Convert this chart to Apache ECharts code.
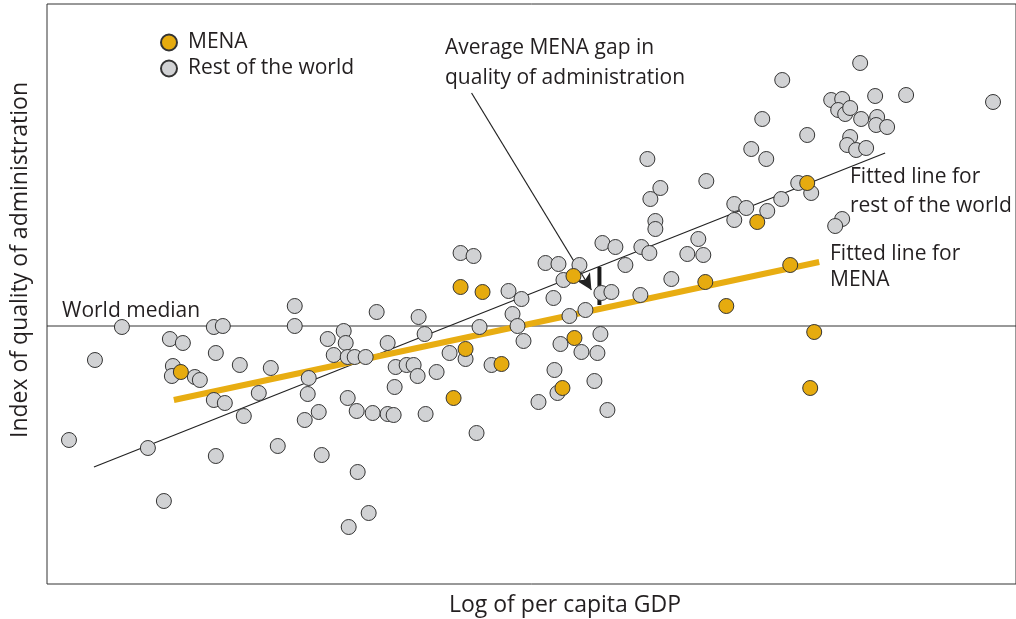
<!DOCTYPE html>
<html>
<head>
<meta charset="utf-8">
<script src="https://cdn.jsdelivr.net/npm/echarts@6/dist/echarts.min.js"></script>
<style>
  html, body { margin: 0; padding: 0; background: #fff; }
  #main { width: 1016px; height: 619px; }
</style>
</head>
<body>
<div id="main"></div>
<script>
// x: log of per capita GDP (arbitrary units), y: quality of administration (0 = world median)
var restOfWorld = [
  [7.5, -0.1], [4.8, -3.4], [12.3, -1.3], [13.6, -1.7], [12.6, -4.0], [12.5, -5.0],
  [14.8, -5.1], [15.3, -5.4], [16.7, -0.1], [17.6, 0.0], [16.9, -2.7], [19.3, -3.9],
  [22.4, -4.2], [16.7, -7.4], [17.8, -7.7], [19.7, -9.0], [21.2, -6.7], [2.2, -11.4],
  [10.1, -12.2], [16.9, -13.0], [23.1, -12.0], [24.8, 2.0], [24.8, 0.0], [11.7, -17.5],
  [28.1, -1.3], [29.7, -0.5], [29.9, -1.7], [28.7, -2.9], [30.1, -3.1], [30.8, -3.1],
  [31.9, -3.1], [33.0, 1.4], [34.1, -1.7], [37.2, 0.9], [37.8, -0.8], [34.9, -4.1],
  [36.0, -3.9], [36.7, -3.9], [37.1, -5.0], [39.0, -4.6], [34.8, -6.1], [26.2, -5.2],
  [26.1, -6.8], [30.1, -7.2], [27.2, -8.6], [25.8, -9.4], [31.0, -8.5], [32.6, -8.7],
  [34.1, -8.8], [34.7, -8.9], [37.9, -8.8], [40.3, -2.7], [41.9, -3.3], [44.5, -3.9],
  [43.0, -10.7], [46.2, 3.5], [47.5, 2.7], [46.6, 1.2], [47.1, 0.0], [47.7, -1.5],
  [43.3, -0.1], [27.5, -12.9], [31.1, -14.6], [32.2, -18.7], [30.2, -20.1], [41.4, 7.3],
  [42.7, 7.0], [49.9, 6.3], [51.2, 6.2], [53.3, 6.1], [51.7, 4.6], [55.6, 8.3],
  [56.9, 7.9], [55.5, 3.3], [56.5, 3.4], [50.7, 2.8], [52.3, 1.0], [53.9, 1.6],
  [55.4, -0.8], [51.4, -1.8], [53.5, -2.6], [55.1, -2.7], [50.8, -4.4], [54.8, -5.5],
  [51.1, -6.7], [49.2, -7.6], [56.1, -8.4], [60.1, 16.7], [66.0, 14.5], [61.4, 13.8],
  [60.4, 12.7], [60.9, 10.5], [60.9, 9.7], [65.2, 8.7], [64.1, 7.2], [65.7, 7.1],
  [59.5, 7.9], [60.3, 7.3], [57.9, 6.1], [62.5, 4.7], [59.4, 3.1], [71.6, 20.7],
  [76.1, 19.1], [70.5, 17.7], [72.0, 16.7], [75.2, 14.3], [76.5, 13.3], [73.5, 12.7],
  [68.8, 12.2], [70.0, 11.8], [72.1, 11.5], [68.8, 10.6], [79.6, 10.7], [78.9, 10.0],
  [81.4, 26.3], [78.5, 22.6], [79.6, 22.7], [79.2, 21.6], [79.9, 21.2], [80.4, 21.8],
  [82.9, 23.0], [86.0, 23.1], [94.7, 22.4], [81.5, 20.7], [83.1, 20.9], [83.0, 20.1],
  [84.1, 19.9], [80.4, 18.9], [80.1, 18.1], [81.0, 17.6], [82.0, 17.8], [73.6, 24.6]
];

var mena = [
  [13.4, -4.6], [41.4, 3.9], [43.6, 3.4], [41.9, -2.3], [45.5, -3.8], [40.7, -7.2],
  [52.7, 5.0], [52.8, -1.2], [51.6, -6.2], [65.9, 4.4], [68.0, 2.0], [71.1, 10.4],
  [76.1, 14.3], [74.4, 6.1], [76.8, -0.6], [76.4, -6.2]
];

var fitRest = [[4.7, -14.1], [83.9, 17.3]];
var fitMena = [[12.7, -7.4], [77.3, 6.4]];
var worldMedian = [[0, 0], [97, 0]];
var gapBar = [[55.3, 5.9], [55.3, 2.1]];
var arrowFrom = [42.5, 23.3];
var arrowTo = [54.5, 3.6];

var FONT = 'Open Sans';
var FSIZE = 21;
var TITLE_SIZE = 23;
var TXT = '#231f20';

var chart = echarts.init(document.getElementById('main'));

function textEl(x, y, str, extra) {
  var s = { text: str, fill: TXT, font: FSIZE + 'px "' + FONT + '"', textVerticalAlign: 'middle' };
  for (var k in extra) s[k] = extra[k];
  return { type: 'text', x: x, y: y, style: s, z: 100 };
}

chart.setOption({
  animation: false,
  grid: { left: 47, top: 4, width: 970, height: 580, show: true, borderColor: '#333', borderWidth: 1 },
  xAxis: {
    type: 'value', min: 0, max: 97,
    axisLine: { show: false }, axisTick: { show: false }, axisLabel: { show: false }, splitLine: { show: false }
  },
  yAxis: {
    type: 'value', min: -25.8, max: 32.2,
    axisLine: { show: false }, axisTick: { show: false }, axisLabel: { show: false }, splitLine: { show: false }
  },
  legend: {
    data: ['MENA', 'Rest of the world'],
    orient: 'vertical', left: 160, top: 32, padding: 0,
    itemWidth: 16, itemHeight: 16, itemGap: 5,
    icon: 'circle',
    textStyle: { fontFamily: FONT, fontSize: FSIZE, color: TXT, lineHeight: 20, padding: [0, 0, 0, 6] }
  },
  graphic: [
    textEl(62, 311, 'World median'),
    textEl(445, 48, 'Average MENA gap in'),
    textEl(445, 78, 'quality of administration'),
    textEl(850, 177, 'Fitted line for'),
    textEl(850, 206, 'rest of the world'),
    textEl(830, 254, 'Fitted line for'),
    textEl(830, 280, 'MENA'),
    textEl(565, 605, 'Log of per capita GDP', { textAlign: 'center', font: TITLE_SIZE + 'px "' + FONT + '"' }),
    {
      type: 'text', x: 20, y: 260, rotation: Math.PI / 2, z: 100,
      style: { text: 'Index of quality of administration', fill: TXT, font: TITLE_SIZE + 'px "' + FONT + '"', textAlign: 'center', textVerticalAlign: 'middle' }
    }
  ],
  series: [
    {
      type: 'line', data: worldMedian, symbol: 'none', silent: true, z: 1,
      lineStyle: { color: '#333', width: 1 }
    },
    {
      type: 'line', data: fitRest, symbol: 'none', silent: true, z: 1,
      lineStyle: { color: '#222', width: 1.2 }
    },
    {
      type: 'line', data: fitMena, symbol: 'none', silent: true, z: 1,
      lineStyle: { color: '#e8ad12', width: 6 }
    },
    {
      type: 'line', data: gapBar, symbol: 'none', silent: true, z: 1,
      lineStyle: { color: '#1a1a1a', width: 4 },
      markLine: {
        silent: true, symbol: ['none', 'arrow'], symbolSize: [12, 16],
        label: { show: false },
        lineStyle: { color: '#222', width: 1.2, type: 'solid' },
        data: [[{ coord: arrowFrom }, { coord: arrowTo }]]
      }
    },
    {
      name: 'Rest of the world', type: 'scatter', data: restOfWorld, symbolSize: 15, z: 5,
      itemStyle: { color: '#d1d2d4', borderColor: '#333', borderWidth: 1, opacity: 1 }
    },
    {
      name: 'MENA', type: 'scatter', data: mena, symbolSize: 15, z: 6,
      itemStyle: { color: '#e6ab0f', borderColor: '#333', borderWidth: 1, opacity: 1 }
    }
  ]
});
</script>
</body>
</html>
